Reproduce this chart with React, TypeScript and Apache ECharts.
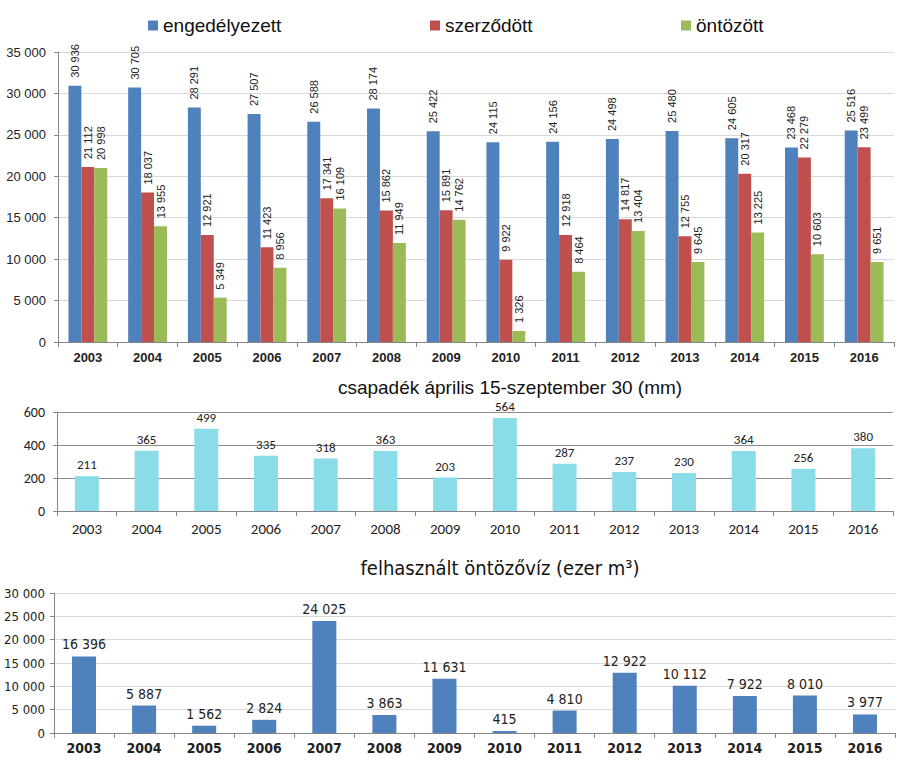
import React, { useEffect, useRef } from "react";
import * as echarts from "echarts";

const years = ["2003","2004","2005","2006","2007","2008","2009","2010","2011","2012","2013","2014","2015","2016"];
const engedelyezett = [30936, 30705, 28291, 27507, 26588, 28174, 25422, 24115, 24156, 24498, 25480, 24605, 23468, 25516];
const szerzodott = [21112, 18037, 12921, 11423, 17341, 15862, 15891, 9922, 12918, 14817, 12755, 20317, 22279, 23499];
const ontozott = [20998, 13955, 5349, 8956, 16109, 11949, 14762, 1326, 8464, 13404, 9645, 13225, 10603, 9651];
const csapadek = [211, 365, 499, 335, 318, 363, 203, 564, 287, 237, 230, 364, 256, 380];
const felhasznalt = [16396, 5887, 1562, 2824, 24025, 3863, 11631, 415, 4810, 12922, 10112, 7922, 8010, 3977];

const fmt = (v: number | string) => String(v).replace(/\B(?=(\d{3})+(?!\d))/g, " ");

const ARIAL = "'Liberation Sans', Arial, sans-serif";
const NARROW = "'Liberation Sans Narrow', 'Arial Narrow', 'DejaVu Sans Condensed', sans-serif";
const CALIBRI = "Carlito, Lato, 'Open Sans', sans-serif";

export default function App() {
  const ref = useRef<HTMLDivElement>(null);
  useEffect(() => {
    document.body.style.margin = "0";
    const chart = echarts.init(ref.current!, null, { renderer: "svg" });
    const rotLabel = {
      show: true,
      position: "top",
      rotate: 90,
      align: "left",
      verticalAlign: "middle",
      distance: 8,
      fontFamily: ARIAL,
      fontSize: 11,
      color: "#222",
      formatter: (p: any) => fmt(p.value),
    };
    const option: any = {
      animation: false,
      backgroundColor: "#fff",
      legend: [
        { data: ["engedélyezett"], left: 143, top: 11, itemWidth: 10, itemHeight: 10, itemGap: 5,
          icon: "rect", textStyle: { fontFamily: ARIAL, fontSize: 19, color: "#111" } },
        { data: ["szerződött"], left: 425, top: 11, itemWidth: 10, itemHeight: 10, itemGap: 5,
          icon: "rect", textStyle: { fontFamily: ARIAL, fontSize: 19, color: "#111" } },
        { data: ["öntözött"], left: 676, top: 11, itemWidth: 10, itemHeight: 10, itemGap: 5,
          icon: "rect", textStyle: { fontFamily: ARIAL, fontSize: 19, color: "#111" } },
      ],
      title: [
        { text: "csapadék április 15-szeptember 30 (mm)", left: 505, top: 373, textAlign: "center",
          textStyle: { fontFamily: ARIAL, fontSize: 19, fontWeight: "normal", color: "#111" } },
        { text: "felhasznált öntözővíz (ezer m³)", left: 495, top: 553, textAlign: "center",
          textStyle: { fontFamily: NARROW, fontSize: 20, fontWeight: "normal", color: "#111" } },
      ],
      grid: [
        { left: 58, right: 12, top: 52, bottom: 420 },
        { left: 57, right: 13, top: 412, bottom: 251 },
        { left: 54, right: 11, top: 593, bottom: 29 },
      ],
      xAxis: [
        { type: "category", gridIndex: 0, data: years,
          axisLine: { lineStyle: { color: "#868686" } },
          axisTick: { show: true, length: 5, lineStyle: { color: "#868686" } },
          axisLabel: { fontFamily: ARIAL, fontSize: 13, fontWeight: "bold", color: "#222", margin: 9 } },
        { type: "category", gridIndex: 1, data: years,
          axisLine: { lineStyle: { color: "#868686" } },
          axisTick: { show: true, length: 5, lineStyle: { color: "#868686" } },
          axisLabel: { fontFamily: CALIBRI, fontSize: 15, color: "#222", margin: 10 } },
        { type: "category", gridIndex: 2, data: years,
          axisLine: { lineStyle: { color: "#868686" } },
          axisTick: { show: true, length: 5, lineStyle: { color: "#868686" } },
          axisLabel: { fontFamily: NARROW, fontSize: 14, fontWeight: "bold", color: "#222", margin: 8 } },
      ],
      yAxis: [
        { type: "value", gridIndex: 0, min: 0, max: 35000, interval: 5000,
          axisLine: { show: true, lineStyle: { color: "#868686" } },
          axisTick: { show: true, length: 4, lineStyle: { color: "#868686" } },
          splitLine: { lineStyle: { color: "#d9d9d9" } },
          axisLabel: { fontFamily: ARIAL, fontSize: 13, color: "#222", margin: 12, formatter: fmt } },
        { type: "value", gridIndex: 1, min: 0, max: 600, interval: 200,
          axisLine: { show: true, lineStyle: { color: "#868686" } },
          axisTick: { show: true, length: 4, lineStyle: { color: "#868686" } },
          splitLine: { lineStyle: { color: "#8c8c8c" } },
          axisLabel: { fontFamily: CALIBRI, fontSize: 14, color: "#222", margin: 12, formatter: fmt } },
        { type: "value", gridIndex: 2, min: 0, max: 30000, interval: 5000,
          axisLine: { show: true, lineStyle: { color: "#868686" } },
          axisTick: { show: true, length: 4, lineStyle: { color: "#868686" } },
          splitLine: { lineStyle: { color: "#d9d9d9" } },
          axisLabel: { fontFamily: NARROW, fontSize: 13, color: "#222", margin: 9, formatter: fmt } },
      ],
      series: [
        { name: "engedélyezett", type: "bar", xAxisIndex: 0, yAxisIndex: 0, data: engedelyezett,
          itemStyle: { color: "#4f81bd" }, barGap: "0%", barCategoryGap: "35%", label: rotLabel },
        { name: "szerződött", type: "bar", xAxisIndex: 0, yAxisIndex: 0, data: szerzodott,
          itemStyle: { color: "#c0504d" }, barGap: "0%", barCategoryGap: "35%", label: rotLabel },
        { name: "öntözött", type: "bar", xAxisIndex: 0, yAxisIndex: 0, data: ontozott,
          itemStyle: { color: "#9bbb59" }, barGap: "0%", barCategoryGap: "35%", label: rotLabel },
        { name: "csapadék", type: "bar", xAxisIndex: 1, yAxisIndex: 1, data: csapadek,
          itemStyle: { color: "#8adde8" }, barWidth: 24,
          label: { show: true, position: "top", distance: 5, fontFamily: CALIBRI, fontSize: 13, color: "#222" } },
        { name: "felhasznált", type: "bar", xAxisIndex: 2, yAxisIndex: 2, data: felhasznalt,
          itemStyle: { color: "#4f81bd" }, barWidth: 24,
          label: { show: true, position: "top", distance: 5, fontFamily: NARROW, fontSize: 14, color: "#222",
            formatter: (p: any) => fmt(p.value) } },
      ],
    };
    chart.setOption(option);
    return () => chart.dispose();
  }, []);
  return <div ref={ref} style={{ width: 906, height: 762 }} />;
}
